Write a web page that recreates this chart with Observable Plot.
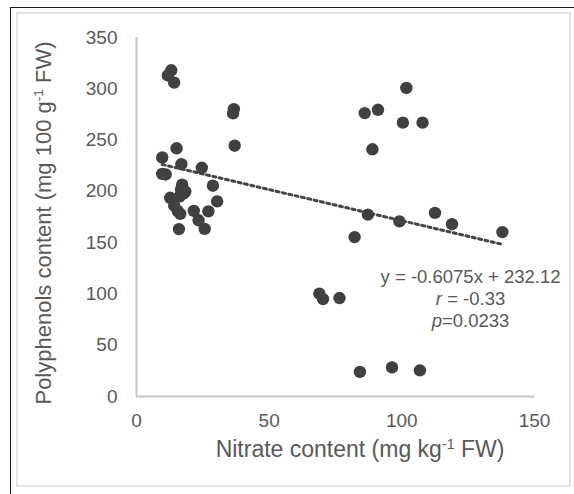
<!DOCTYPE html>
<html><head><meta charset="utf-8">
<script src="https://cdn.jsdelivr.net/npm/d3@7"></script>
<script src="https://cdn.jsdelivr.net/npm/@observablehq/plot@0.6"></script>
<style>
html,body{margin:0;padding:0;background:#fff;}
#wrap{position:relative;width:574px;height:494px;overflow:hidden;}
#outer{position:absolute;left:10px;top:7px;right:-5px;bottom:-5px;border-left:1.5px solid #1a1a1a;border-top:1.5px solid #1a1a1a;}
#inner{position:absolute;left:16px;top:12px;width:555px;height:475px;border:2px solid #e4e4e4;box-sizing:border-box;}
#chart{position:absolute;left:0;top:0;}
</style></head><body>
<div id="wrap"><div id="outer"></div><div id="inner"></div><div id="chart"></div></div>
<script>
// Data
const nitrate = [9.7, 9.7, 11.0, 11.8, 13.1, 14.2, 15.1, 16.9, 24.6, 12.7, 14.2, 15.5, 16.5, 17.2, 16.8, 17.8, 16.3, 18.4, 16.0, 21.6, 23.4, 25.7, 27.1, 28.8, 30.4, 36.7, 36.4, 37.0, 68.9, 70.3, 76.5, 82.2, 84.2, 86.0, 91.0, 88.9, 87.2, 96.3, 99.1, 100.4, 101.7, 107.8, 106.8, 112.5, 118.9, 137.9];
const polyphenols = [233, 217, 216.5, 313, 318, 306, 242, 226.5, 223, 193.7, 186, 181, 178, 206.5, 202, 198, 195, 200, 163.2, 181, 171.8, 163.4, 180.5, 205.5, 190.2, 280.2, 276, 244.5, 100.3, 95, 96, 155.4, 24, 276.3, 279.5, 241, 177.3, 28.3, 170.7, 267, 300.8, 267, 25.5, 179, 168, 160.3];
const xTicks = [0, 50, 100, 150];
const yTicks = [0, 50, 100, 150, 200, 250, 300, 350];
const slope = -0.6075;
const intercept = 232.12;
const annotationLines = ["y = -0.6075x + 232.12", "r = -0.33", "p=0.0233"];
const annotationX = [125.9, 125.9, 125.9];
const annotationY = [116, 94.5, 74];
const xTitle = ["Nitrate content (mg kg", "-1", " FW)"];
const yTitle = ["Polyphenols content (mg 100 g", "-1", " FW)"];

const points = nitrate.map((x, i) => ({x, y: polyphenols[i]}));
const trend = d3.extent(nitrate).map(x => ({x, y: slope * x + intercept}));
const annotations = annotationLines.map((t, i) => ({t, x: annotationX[i], y: annotationY[i]}));

const font = "'Liberation Sans', Arial, sans-serif";
const chart = Plot.plot({
  width: 574, height: 494,
  marginLeft: 136, marginRight: 40, marginTop: 37, marginBottom: 98,
  style: {background: "transparent", fontFamily: font, fontSize: "19px", color: "#595959"},
  x: {domain: [0, 150]},
  y: {domain: [0, 350]},
  marks: [
    Plot.ruleY([0], {stroke: "#c6c6c6", strokeWidth: 2}),
    Plot.ruleX([0], {stroke: "#c6c6c6", strokeWidth: 2}),
    Plot.axisX({ticks: xTicks, tickSize: 0, tickPadding: 17, label: null, fontSize: 19, color: "#595959"}),
    Plot.axisY({ticks: yTicks, tickSize: 0, tickPadding: 19, label: null, fontSize: 19, color: "#595959"}),
    Plot.line(trend, {x: "x", y: "y", stroke: "#454545", strokeWidth: 3, strokeDasharray: "3 3.5"}),
    Plot.dot(points, {x: "x", y: "y", r: 6.2, fill: "#404040", stroke: "none"}),
    Plot.text(annotations, {x: "x", y: "y", text: "t", fontSize: 18.5, fill: "#595959", textAnchor: "middle"})
  ]
});
document.getElementById("chart").appendChild(chart);

const svg = d3.select(chart);
// italic r and p
svg.selectAll("text").each(function() {
  const t = this.textContent;
  if (t === annotationLines[1] || t === annotationLines[2]) {
    const sel = d3.select(this);
    while (this.firstChild) this.removeChild(this.firstChild);
    sel.append("tspan").attr("font-style", "italic").text(t[0]);
    sel.append("tspan").text(t.slice(1));
  }
});

function titled(g, parts, size) {
  const txt = g.append("text").attr("text-anchor", "middle").attr("fill", "#595959")
    .attr("font-family", font).attr("font-size", size);
  txt.append("tspan").text(parts[0]);
  txt.append("tspan").attr("font-size", size * 0.62).attr("dy", -8).text(parts[1]);
  txt.append("tspan").attr("dy", 8).text(parts[2]);
  return txt;
}
const titles = svg.append("g").attr("aria-label", "titles");
titled(titles, xTitle, 23).attr("x", 360).attr("y", 457);
titled(titles, yTitle, 22).attr("transform", "translate(51,223) rotate(-90)");
</script></body></html>
